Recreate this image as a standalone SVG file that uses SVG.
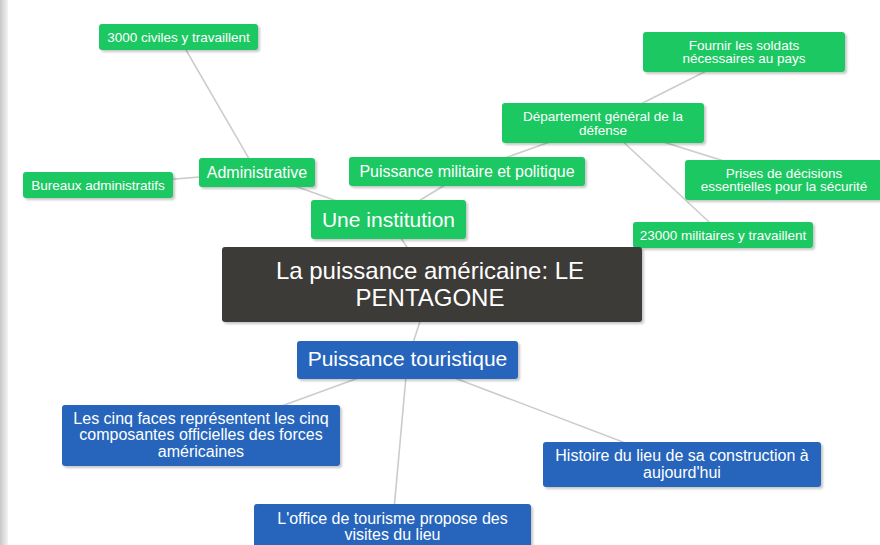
<svg xmlns="http://www.w3.org/2000/svg" width="880" height="545" viewBox="0 0 880 545">
<defs>
<linearGradient id="lbar" x1="0" x2="1" y1="0" y2="0">
<stop offset="0" stop-color="#c8c8c8"/>
<stop offset="1" stop-color="#f4f4f4"/>
</linearGradient>
<filter id="sh" x="-10%" y="-20%" width="130%" height="160%">
<feDropShadow dx="2" dy="2" stdDeviation="1.2" flood-color="#000" flood-opacity="0.22"/>
</filter>
<style>
.g{fill:#1cc862;filter:url(#sh)}
.b{fill:#2565bb;filter:url(#sh)}
.d{fill:#3d3a39;filter:url(#sh)}
text{font-family:"Liberation Sans",Arial,sans-serif;fill:#fff;text-anchor:middle}
.s{font-size:13.5px}
.m{font-size:16px}
.l{font-size:21px}
.t{font-size:24px}
.c line{stroke:#cccccc;stroke-width:1.6}
</style>
</defs>
<rect x="0" y="0" width="880" height="545" fill="#fff"/>
<rect x="0" y="0" width="8" height="545" fill="url(#lbar)"/>
<g class="c" id="connectors">
<line x1="178.5" y1="37" x2="257" y2="172.5"/>
<line x1="98" y1="185" x2="257" y2="172.5"/>
<line x1="257" y1="172.5" x2="388.5" y2="219.5"/>
<line x1="467" y1="171.5" x2="388.5" y2="219.5"/>
<line x1="388.5" y1="219.5" x2="432" y2="284.5"/>
<line x1="432" y1="284.5" x2="407.5" y2="360"/>
<line x1="467" y1="171.5" x2="603" y2="123"/>
<line x1="603" y1="123" x2="744" y2="52"/>
<line x1="603" y1="123" x2="784" y2="180"/>
<line x1="603" y1="123" x2="723" y2="235"/>
<line x1="407.5" y1="360" x2="201" y2="435.5"/>
<line x1="407.5" y1="360" x2="392.5" y2="526"/>
<line x1="407.5" y1="360" x2="682" y2="464.5"/>
</g>
<g id="n-civiles"><rect class="g" x="99" y="24" width="159" height="26" rx="3"/><text class="s" x="178.5" y="42">3000 civiles y travaillent</text></g>
<g id="n-bureaux"><rect class="g" x="23" y="172" width="150" height="26" rx="3"/><text class="s" x="98" y="190">Bureaux administratifs</text></g>
<g id="n-admin"><rect class="g" x="199" y="158" width="116" height="29" rx="3"/><text class="m" x="257" y="178">Administrative</text></g>
<g id="n-militaire"><rect class="g" x="349" y="157" width="236" height="29" rx="3"/><text class="m" x="467" y="177">Puissance militaire et politique</text></g>
<g id="n-institution"><rect class="g" x="311" y="200" width="155" height="39" rx="3"/><text class="l" x="388.5" y="227">Une institution</text></g>
<g id="n-departement"><rect class="g" x="502" y="103" width="202" height="40" rx="3"/><text class="s" x="603" y="121">Département général de la</text><text class="s" x="603" y="134.5">défense</text></g>
<g id="n-fournir"><rect class="g" x="643" y="32" width="202" height="40" rx="3"/><text class="s" x="744" y="49.5">Fournir les soldats</text><text class="s" x="744" y="63">nécessaires au pays</text></g>
<g id="n-prises"><rect class="g" x="685" y="160" width="198" height="40" rx="3"/><text class="s" x="784" y="177.5">Prises de décisions</text><text class="s" x="784" y="191">essentielles pour la sécurité</text></g>
<g id="n-23000"><rect class="g" x="633" y="222" width="180" height="26" rx="3"/><text class="s" x="723" y="240">23000 militaires y travaillent</text></g>
<g id="n-main"><rect class="d" x="222" y="247" width="420" height="75" rx="3"/><text class="t" x="430" y="279">La puissance américaine: LE</text><text class="t" x="430" y="306">PENTAGONE</text></g>
<g id="n-touristique"><rect class="b" x="297" y="341" width="221" height="38" rx="3"/><text class="l" x="407.5" y="366">Puissance touristique</text></g>
<g id="n-cinq"><rect class="b" x="62" y="405" width="278" height="61" rx="3"/><text class="m" x="201" y="423.5">Les cinq faces représentent les cinq</text><text class="m" x="201" y="440">composantes officielles des forces</text><text class="m" x="201" y="456.5">américaines</text></g>
<g id="n-histoire"><rect class="b" x="543" y="442" width="278" height="45" rx="3"/><text class="m" x="682" y="461">Histoire du lieu de sa construction à</text><text class="m" x="682" y="477.5">aujourd'hui</text></g>
<g id="n-office"><rect class="b" x="254" y="504" width="277" height="45" rx="3"/><text class="m" x="392.5" y="523.5">L'office de tourisme propose des</text><text class="m" x="392.5" y="540">visites du lieu</text></g>
</svg>
